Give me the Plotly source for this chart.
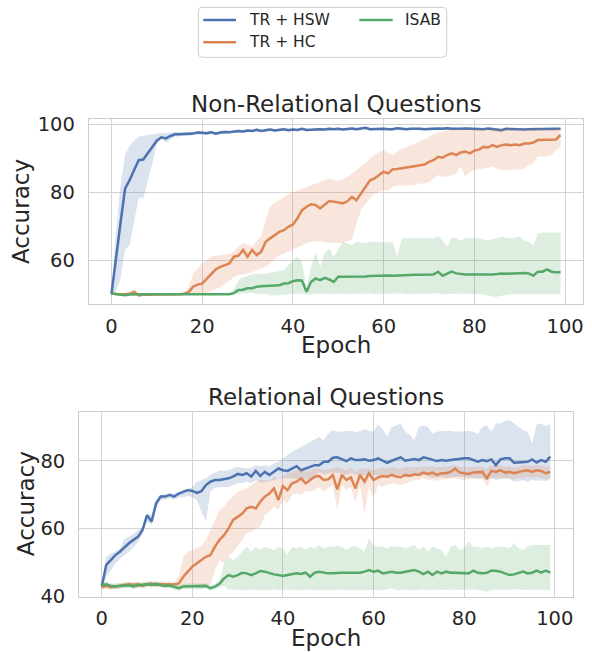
import plotly.graph_objects as go

# ---------------- data ----------------
epochs = list(range(100))

# Top panel: Non-Relational Questions
nr_hsw_mean = [50.0, 61.0, 71.0, 81.0, 83.5, 86.5, 89.4, 89.6, 91.4, 93.3,
               95.1, 96.1, 95.8, 96.5, 97.0, 97.0, 97.1, 97.0, 97.2, 97.5,
               97.5, 97.3, 97.6, 97.2, 97.5, 97.7, 97.6, 97.9, 98.0, 97.8,
               98.1, 98.0, 98.3, 98.0, 98.2, 98.4, 98.1, 98.3, 98.5, 98.2,
               98.4, 98.3, 98.6, 98.3, 98.4, 98.6, 98.5, 98.4, 98.6, 98.5,
               98.6, 98.4, 98.5, 98.7, 98.5, 98.6, 98.9, 98.5, 98.6, 98.5,
               98.6, 98.5, 98.5, 98.8, 98.6, 98.5, 98.6, 98.7, 98.6, 98.5,
               98.6, 98.5, 98.7, 98.6, 98.8, 98.6, 98.5, 98.6, 98.7, 98.6,
               98.5, 98.6, 98.5, 98.7, 98.6, 98.5, 98.2, 98.6, 98.5, 98.6,
               98.5, 98.4, 98.5, 98.5, 98.6, 98.5, 98.6, 98.5, 98.5, 98.6]
nr_hsw_upper = [50.5, 68.0, 82.0, 91.0, 93.5, 95.2, 96.3, 96.6, 96.8, 97.0,
                97.2, 97.4, 97.3, 97.5, 97.7, 97.6, 97.6, 97.5, 97.7, 98.0,
                98.0, 97.8, 98.1, 97.7, 98.0, 98.2, 98.0, 98.3, 98.4, 98.2,
                98.5, 98.4, 98.7, 98.4, 98.6, 98.8, 98.5, 98.7, 98.9, 98.6,
                98.8, 98.7, 99.0, 98.7, 98.8, 99.0, 98.9, 98.8, 99.0, 98.9,
                99.0, 98.8, 98.9, 99.1, 98.9, 99.0, 99.3, 98.9, 99.0, 98.9,
                99.0, 98.9, 98.9, 99.2, 99.0, 98.9, 99.0, 99.1, 99.0, 98.9,
                99.0, 98.9, 99.1, 99.0, 99.2, 99.0, 98.9, 99.0, 99.1, 99.0,
                98.9, 99.0, 98.9, 99.1, 99.0, 98.8, 98.8, 99.0, 98.9, 99.0,
                98.9, 98.8, 98.9, 98.9, 99.0, 98.9, 99.0, 98.9, 98.9, 99.0]
nr_hsw_lower = [49.6, 50.7, 54.6, 63.0, 64.4, 71.8, 78.4, 78.1, 83.0, 88.4,
                94.3, 95.8, 94.5, 95.5, 96.3, 96.4, 96.6, 96.5, 96.7, 97.0,
                97.0, 96.8, 97.1, 96.7, 97.0, 97.2, 97.2, 97.5, 97.6, 97.4,
                97.7, 97.6, 97.9, 97.6, 97.8, 98.0, 97.7, 97.9, 98.1, 97.8,
                98.0, 97.9, 98.2, 97.9, 98.0, 98.2, 98.1, 98.0, 98.2, 98.1,
                98.2, 98.0, 98.1, 98.3, 98.1, 98.2, 98.5, 98.1, 98.2, 98.1,
                98.2, 98.1, 98.1, 98.4, 98.2, 98.1, 98.2, 98.3, 98.2, 98.1,
                98.2, 98.1, 98.3, 98.2, 98.4, 98.2, 98.1, 98.2, 98.3, 98.2,
                98.1, 98.2, 98.1, 98.3, 98.2, 97.8, 97.6, 98.2, 98.1, 98.2,
                98.1, 98.0, 98.1, 98.1, 98.2, 98.1, 98.2, 98.1, 98.1, 98.2]

nr_hc_mean = [50.2, 50.0, 49.9, 50.0, 50.1, 50.7, 49.6, 49.8, 49.8, 50.0,
              50.0, 50.0, 50.0, 50.0, 49.8, 50.0, 50.1, 50.6, 52.2, 52.8,
              53.1, 54.6, 56.0, 57.3, 58.0, 58.5, 59.0, 61.0, 61.3, 63.0,
              61.0, 63.0, 61.5, 62.5, 65.4, 66.4, 67.4, 68.3, 68.8, 69.8,
              70.5, 72.3, 74.7, 75.7, 76.4, 76.2, 75.2, 76.2, 77.4, 77.2,
              76.9, 76.7, 77.3, 78.6, 77.6, 79.6, 81.6, 83.5, 84.0, 85.0,
              86.0, 85.5, 86.7, 86.8, 87.0, 87.3, 87.4, 87.6, 87.8, 88.1,
              88.9, 89.4, 90.4, 90.1, 90.9, 91.4, 90.9, 91.7, 91.9, 91.4,
              92.2, 92.5, 93.3, 93.1, 93.8, 93.3, 93.8, 94.0, 93.8, 94.0,
              93.8, 94.3, 94.3, 94.6, 95.3, 95.3, 95.3, 95.3, 95.5, 96.8]
nr_hc_upper = [50.5, 50.3, 50.2, 50.3, 50.4, 51.0, 49.9, 50.1, 50.1, 50.3,
               50.3, 50.3, 50.3, 50.3, 50.1, 50.3, 50.5, 52.0, 56.0, 57.5,
               59.0, 60.0, 61.0, 61.3, 61.5, 61.5, 61.8, 62.5, 64.0, 65.0,
               64.5, 64.0, 65.5, 67.0, 71.8, 75.7, 77.0, 77.5, 78.5, 79.3,
               80.0, 80.5, 81.0, 81.5, 82.0, 82.5, 83.0, 83.5, 84.0, 83.5,
               83.5, 83.8, 84.5, 85.5, 86.5, 87.5, 88.5, 90.0, 91.0, 91.8,
               92.4, 91.5, 91.0, 92.0, 92.8, 93.3, 93.8, 94.3, 94.8, 95.5,
               96.3, 97.0, 97.6, 97.8, 98.2, 98.4, 98.5, 98.6, 98.4, 98.5,
               98.7, 98.5, 98.6, 98.4, 98.5, 98.3, 98.6, 98.5, 98.7, 98.5,
               98.6, 98.4, 98.5, 98.6, 98.5, 98.6, 98.5, 98.6, 98.5, 98.7]
nr_hc_lower = [49.9, 49.7, 49.6, 49.7, 49.8, 50.4, 49.3, 49.5, 49.5, 49.7,
               49.7, 49.7, 49.7, 49.7, 49.5, 49.7, 49.8, 49.8, 49.9, 50.0,
               50.0, 50.3, 51.0, 51.5, 52.0, 53.0, 54.0, 55.0, 55.6, 55.8,
               56.0, 56.5, 57.0, 57.5, 58.0, 59.0, 60.5, 61.3, 62.0, 62.5,
               63.0, 63.7, 64.4, 65.0, 65.4, 65.6, 65.6, 65.2, 65.0, 65.0,
               65.0, 65.2, 65.5, 66.0, 70.8, 74.7, 76.7, 78.1, 79.6, 80.1,
               80.6, 80.3, 81.6, 81.8, 82.0, 81.8, 82.2, 82.0, 82.5, 82.5,
               83.0, 84.0, 85.0, 84.5, 84.5, 85.0, 85.5, 87.5, 84.5, 86.0,
               86.5, 86.8, 87.0, 87.2, 87.5, 86.8, 86.5, 86.6, 86.5, 86.7,
               86.5, 87.0, 87.9, 88.5, 90.4, 90.4, 90.5, 91.0, 92.4, 93.3]

nr_isab_mean = [50.2, 50.0, 49.9, 49.7, 49.9, 50.0, 50.0, 50.0, 50.0, 50.0,
                50.0, 50.0, 50.0, 50.0, 50.0, 50.0, 50.0, 50.0, 50.0, 50.0,
                50.0, 50.0, 50.0, 50.0, 50.0, 50.0, 50.0, 50.3, 51.2, 51.3,
                51.7, 51.7, 52.2, 52.3, 52.4, 52.3, 52.6, 52.6, 53.1, 53.2,
                53.8, 54.1, 54.0, 50.7, 53.6, 54.6, 54.1, 54.8, 54.3, 53.6,
                55.1, 55.1, 55.0, 55.1, 55.2, 55.1, 55.2, 55.3, 55.4, 55.3,
                55.6, 55.5, 55.4, 55.5, 55.6, 55.7, 55.6, 55.7, 55.7, 55.7,
                55.8, 55.8, 56.6, 55.4, 56.0, 56.6, 56.1, 55.9, 55.8, 55.8,
                55.8, 55.7, 55.6, 55.8, 55.8, 55.9, 56.1, 56.0, 56.1, 56.0,
                56.1, 56.2, 56.1, 55.4, 56.6, 56.6, 57.3, 56.6, 56.4, 56.4]
nr_isab_upper = [50.4, 50.2, 50.1, 49.9, 50.1, 50.2, 50.2, 50.2, 50.2, 50.2,
                 50.2, 50.2, 50.2, 50.2, 50.2, 50.2, 50.2, 50.2, 50.2, 50.2,
                 50.2, 50.2, 50.2, 50.2, 50.2, 50.2, 50.2, 51.5, 54.0, 55.0,
                 55.5, 55.8, 56.0, 56.0, 56.0, 56.3, 56.5, 56.8, 57.0, 58.5,
                 60.0, 61.0, 59.5, 51.5, 58.0, 62.5, 58.0, 62.0, 63.4, 61.0,
                 63.4, 65.4, 65.0, 64.4, 65.4, 65.2, 65.0, 65.4, 65.4, 65.4,
                 65.4, 65.4, 65.2, 61.0, 66.4, 66.4, 66.4, 66.4, 66.4, 66.4,
                 66.4, 66.4, 67.0, 65.8, 64.0, 66.7, 66.4, 65.8, 66.4, 66.4,
                 66.4, 66.4, 66.0, 65.8, 66.2, 66.4, 66.9, 66.6, 66.4, 66.6,
                 66.9, 65.8, 65.4, 64.4, 67.8, 68.1, 68.1, 68.1, 68.1, 68.1]
nr_isab_lower = [50.0, 49.8, 49.7, 49.5, 49.7, 49.8, 49.8, 49.8, 49.8, 49.8,
                 49.8, 49.8, 49.8, 49.8, 49.8, 49.8, 49.8, 49.8, 49.8, 49.8,
                 49.8, 49.8, 49.8, 49.8, 49.8, 49.8, 49.8, 49.9, 50.0, 50.2,
                 50.3, 50.3, 50.2, 50.0, 50.1, 49.7, 49.6, 49.7, 49.8, 50.0,
                 50.1, 50.2, 50.1, 49.8, 50.0, 50.2, 50.1, 50.2, 50.0, 50.1,
                 50.2, 50.1, 50.0, 50.2, 50.1, 50.0, 50.1, 50.2, 50.0, 50.1,
                 50.2, 50.1, 50.0, 50.1, 50.2, 50.0, 50.1, 50.0, 50.2, 50.1,
                 50.0, 50.1, 50.2, 50.0, 50.1, 50.0, 50.1, 50.2, 50.0, 50.1,
                 50.0, 50.1, 49.8, 49.6, 49.3, 49.2, 49.4, 49.8, 50.0, 50.1,
                 50.0, 50.1, 50.0, 50.1, 50.0, 50.1, 50.0, 50.1, 50.0, 50.0]

# Bottom panel: Relational Questions
r_hsw_mean = [42.8, 49.2, 50.6, 52.1, 53.1, 54.4, 55.6, 56.6, 57.5, 59.5,
              63.9, 62.0, 67.4, 69.4, 69.4, 69.9, 69.4, 70.3, 70.8, 71.3,
              71.1, 70.5, 71.0, 72.8, 73.8, 74.3, 74.3, 74.5, 74.8, 75.3,
              76.1, 75.8, 76.3, 75.3, 77.0, 75.5, 76.7, 75.8, 76.7, 77.7,
              77.2, 77.0, 77.7, 78.4, 77.2, 77.7, 78.2, 78.7, 78.7, 79.7,
              79.7, 80.9, 81.0, 80.4, 79.9, 80.7, 80.2, 80.2, 80.4, 80.0,
              80.2, 80.7, 80.0, 79.4, 80.0, 80.4, 81.0, 80.0, 80.2, 80.5,
              80.2, 81.0, 80.7, 80.2, 79.9, 80.2, 80.0, 80.2, 80.4, 80.5,
              80.7, 80.7, 80.2, 79.7, 80.2, 79.9, 80.4, 78.7, 80.4, 80.7,
              80.7, 79.4, 79.5, 79.6, 79.7, 80.4, 79.5, 80.2, 79.7, 81.2]
r_hsw_upper = [43.5, 51.6, 52.4, 53.1, 54.0, 56.9, 57.5, 58.3, 59.4, 60.5,
               64.4, 63.9, 68.4, 69.9, 70.2, 70.3, 70.3, 70.7, 71.5, 71.8,
               72.1, 73.8, 74.3, 74.8, 75.8, 76.5, 77.2, 77.0, 77.2, 77.7,
               78.2, 77.9, 77.7, 77.9, 78.7, 78.4, 78.7, 78.4, 79.2, 79.7,
               80.7, 81.7, 82.7, 83.4, 84.1, 84.9, 85.6, 86.3, 87.0, 86.1,
               88.0, 89.0, 88.6, 88.6, 88.9, 88.9, 88.5, 88.7, 89.4, 88.9,
               88.6, 90.8, 89.4, 87.1, 89.9, 90.4, 91.0, 88.6, 87.6, 86.1,
               90.0, 90.4, 90.0, 88.0, 88.6, 88.9, 88.7, 88.9, 88.6, 88.7,
               88.6, 88.9, 88.6, 88.0, 90.0, 90.4, 88.6, 91.0, 91.0, 91.8,
               92.0, 91.0, 90.0, 89.0, 88.6, 85.1, 90.8, 91.0, 90.3, 90.8]
r_hsw_lower = [42.3, 45.6, 47.6, 49.6, 51.0, 52.1, 53.0, 54.4, 56.0, 58.5,
               62.0, 61.0, 65.9, 68.4, 68.5, 68.9, 68.5, 69.2, 69.2, 69.6,
               69.2, 68.4, 65.0, 62.0, 71.0, 72.0, 72.0, 72.2, 72.2, 72.8,
               73.4, 73.4, 73.8, 73.4, 74.3, 73.6, 73.8, 73.8, 74.3, 74.5,
               74.8, 74.8, 74.8, 74.6, 74.3, 74.5, 74.3, 75.0, 76.7, 76.0,
               76.2, 76.5, 76.3, 76.2, 75.8, 76.5, 75.8, 75.7, 75.7, 75.6,
               75.7, 75.7, 75.5, 75.2, 75.5, 75.4, 75.8, 75.2, 75.5, 75.4,
               75.5, 75.8, 75.5, 75.0, 75.0, 75.2, 75.0, 75.2, 75.2, 75.3,
               75.2, 75.2, 75.0, 74.6, 74.8, 74.3, 74.8, 74.3, 74.6, 74.8,
               74.6, 73.8, 74.0, 74.2, 73.8, 74.3, 74.0, 74.2, 74.0, 74.5]

r_hc_mean = [42.6, 43.0, 42.6, 42.8, 43.0, 43.3, 43.5, 43.3, 43.5, 43.0,
             43.5, 43.7, 43.3, 43.5, 43.4, 43.3, 43.4, 43.7, 45.7, 47.2,
             48.7, 49.7, 50.6, 51.6, 52.1, 54.6, 56.6, 58.0, 60.0, 62.5,
             63.4, 64.4, 65.9, 66.4, 65.9, 67.9, 69.4, 70.3, 71.8, 68.4,
             72.5, 71.3, 73.3, 73.8, 74.8, 73.3, 74.3, 75.3, 75.5, 74.3,
             74.5, 75.8, 71.5, 75.8, 74.3, 75.1, 71.8, 75.8, 73.8, 76.3,
             74.3, 75.1, 75.5, 75.3, 75.8, 75.3, 75.1, 75.8, 75.5, 76.0,
             75.8, 76.5, 76.1, 76.5, 75.8, 76.3, 76.3, 76.7, 77.7, 76.5,
             76.3, 76.1, 76.5, 76.7, 76.7, 74.8, 77.0, 76.7, 77.2, 76.5,
             76.7, 76.3, 76.7, 77.0, 77.2, 76.7, 77.2, 77.0, 76.3, 76.7]
r_hc_upper = [43.4, 43.8, 43.4, 43.6, 43.8, 44.1, 44.3, 44.1, 44.3, 43.8,
              44.3, 44.5, 44.1, 44.3, 44.2, 44.1, 44.2, 46.0, 51.6, 53.1,
              53.6, 54.1, 55.0, 56.6, 59.5, 62.5, 65.4, 66.4, 68.4, 69.4,
              70.8, 71.3, 71.8, 72.8, 73.8, 74.3, 74.3, 73.8, 75.3, 74.3,
              75.5, 76.3, 76.7, 77.2, 77.7, 76.7, 77.2, 77.7, 77.7, 77.2,
              77.5, 77.7, 78.2, 77.7, 77.2, 77.9, 76.7, 77.7, 77.7, 77.7,
              77.2, 77.7, 78.0, 77.8, 78.2, 77.7, 77.8, 78.2, 78.0, 78.2,
              78.0, 78.4, 78.2, 78.4, 78.0, 78.2, 78.2, 78.4, 78.7, 78.2,
              78.0, 78.0, 78.2, 78.4, 78.4, 77.7, 78.7, 78.4, 78.7, 78.2,
              78.4, 78.0, 78.4, 78.7, 78.7, 78.4, 78.7, 78.7, 78.2, 78.4]
r_hc_lower = [41.8, 42.2, 41.8, 42.0, 42.2, 42.5, 42.7, 42.5, 42.7, 42.2,
              42.7, 42.9, 42.5, 42.7, 42.6, 42.5, 42.6, 42.8, 42.8, 43.0,
              43.3, 43.3, 42.8, 42.8, 43.3, 47.7, 50.6, 49.7, 51.6, 53.1,
              54.6, 56.6, 58.5, 59.0, 60.0, 60.5, 63.9, 64.9, 66.4, 65.4,
              68.4, 67.4, 69.9, 70.3, 69.9, 71.3, 70.8, 71.3, 72.3, 70.8,
              71.8, 72.8, 65.4, 72.8, 71.3, 72.3, 67.4, 72.8, 64.0, 72.3,
              68.9, 72.8, 72.3, 72.8, 73.3, 73.3, 72.8, 73.4, 73.8, 74.3,
              74.3, 74.8, 74.3, 74.5, 74.0, 74.5, 74.5, 74.8, 74.8, 74.5,
              74.3, 74.3, 74.6, 74.8, 74.8, 72.3, 74.8, 75.0, 75.0, 74.6,
              74.8, 74.5, 75.0, 75.0, 75.2, 75.0, 75.2, 75.0, 74.6, 75.0]

r_isab_mean = [43.2, 43.5, 43.0, 42.8, 43.0, 43.2, 43.2, 42.8, 43.2, 43.3,
               43.5, 43.3, 43.6, 43.2, 43.0, 43.1, 42.8, 42.3, 42.8, 42.8,
               42.8, 42.8, 42.8, 43.0, 42.3, 42.8, 43.6, 45.2, 46.2, 45.7,
               46.2, 46.9, 46.7, 46.2, 46.7, 47.4, 47.2, 46.7, 46.4, 46.2,
               45.9, 46.2, 46.4, 46.7, 46.5, 46.9, 45.7, 46.9, 47.2, 46.9,
               46.7, 46.7, 46.9, 46.9, 46.9, 46.9, 46.9, 46.9, 47.2, 47.7,
               47.2, 47.5, 46.7, 46.9, 47.2, 46.9, 46.9, 47.2, 47.5, 47.7,
               47.2, 46.5, 47.2, 46.2, 47.2, 46.7, 47.2, 46.9, 46.9, 46.9,
               46.7, 46.7, 47.5, 46.9, 46.7, 46.9, 47.5, 47.5, 47.2, 46.7,
               46.2, 46.4, 46.9, 47.2, 46.7, 46.9, 47.5, 46.9, 47.5, 46.9]
r_isab_upper = [44.0, 44.3, 43.8, 43.6, 43.8, 44.0, 44.0, 43.6, 44.0, 44.1,
                44.3, 44.1, 44.4, 44.0, 43.8, 43.9, 43.6, 43.1, 43.6, 43.6,
                43.6, 43.6, 43.6, 43.8, 43.1, 43.6, 44.7, 49.7, 51.6, 50.6,
                51.6, 53.1, 54.6, 53.1, 54.6, 53.6, 54.6, 54.1, 53.6, 54.6,
                54.1, 52.1, 54.6, 54.1, 54.6, 53.6, 54.6, 54.1, 55.1, 54.1,
                54.6, 54.6, 54.8, 54.6, 53.6, 54.6, 54.8, 54.1, 53.1, 57.1,
                55.1, 54.6, 54.6, 54.1, 54.8, 54.6, 54.6, 54.1, 54.6, 55.1,
                53.6, 54.6, 53.1, 54.6, 54.1, 53.6, 51.6, 54.6, 55.1, 53.6,
                54.1, 56.1, 54.6, 54.6, 54.1, 54.6, 54.1, 54.6, 54.6, 54.6,
                54.1, 55.6, 54.1, 53.6, 54.6, 55.1, 55.1, 55.1, 55.1, 55.1]
r_isab_lower = [42.4, 42.7, 42.2, 42.0, 42.2, 42.4, 42.4, 42.0, 42.4, 42.5,
                42.7, 42.5, 42.8, 42.4, 42.2, 42.3, 42.0, 41.5, 42.0, 42.0,
                42.0, 42.0, 42.0, 42.2, 41.5, 42.0, 42.6, 43.0, 42.0, 41.8,
                41.8, 41.6, 41.8, 41.9, 41.7, 41.8, 41.6, 41.8, 41.9, 41.7,
                41.8, 41.9, 41.7, 41.8, 41.6, 41.8, 41.9, 41.7, 41.8, 41.9,
                41.8, 41.7, 41.9, 41.8, 41.6, 41.8, 41.9, 41.8, 41.7, 41.8,
                41.9, 41.8, 41.7, 41.9, 42.2, 41.8, 41.7, 41.9, 41.8, 41.6,
                41.8, 41.9, 41.7, 41.8, 41.9, 41.8, 41.7, 41.8, 41.9, 41.8,
                41.7, 41.8, 41.9, 41.8, 41.6, 41.3, 41.7, 41.8, 41.9, 41.8,
                41.7, 41.8, 41.9, 41.8, 41.7, 41.8, 41.9, 41.8, 41.7, 41.8]

series_names = ["TR + HSW", "TR + HC", "ISAB"]
x_ticks = [0, 20, 40, 60, 80, 100]
top_y_ticks = [60, 80, 100]
bottom_y_ticks = [40, 60, 80]
panel_titles = ["Non-Relational Questions", "Relational Questions"]
x_label = "Epoch"
y_label = "Accuracy"

# ---------------- styling ----------------
W, H = 592, 652
FONT = "DejaVu Sans"
TXT = "#262626"
GRID = "#d4d4d4"
SPINE = "#cccccc"
colors = ["#4C72B0", "#DD8452", "#55A868"]
bands = ["rgba(76,114,176,0.2)", "rgba(221,132,82,0.2)", "rgba(85,168,104,0.2)"]

def px(x):
    return x / W

def py(y):
    return 1 - y / H

fig = go.Figure()

panels = [
    ("x", "y", [(nr_hsw_mean, nr_hsw_upper, nr_hsw_lower),
                (nr_hc_mean, nr_hc_upper, nr_hc_lower),
                (nr_isab_mean, nr_isab_upper, nr_isab_lower)]),
    ("x2", "y2", [(r_hsw_mean, r_hsw_upper, r_hsw_lower),
                  (r_hc_mean, r_hc_upper, r_hc_lower),
                  (r_isab_mean, r_isab_upper, r_isab_lower)]),
]

for xa, ya, data in panels:
    for i, (m, up, lo) in enumerate(data):
        fig.add_trace(go.Scatter(
            x=epochs + epochs[::-1], y=up + lo[::-1], xaxis=xa, yaxis=ya,
            fill="toself", fillcolor=bands[i], line=dict(width=0),
            mode="lines", hoverinfo="skip", showlegend=False))
        fig.add_trace(go.Scatter(
            x=epochs, y=m, xaxis=xa, yaxis=ya, mode="lines",
            line=dict(color=colors[i], width=2.5), name=series_names[i],
            showlegend=False))

axis_common = dict(
    showgrid=True, gridcolor=GRID, gridwidth=1.2, zeroline=False,
    showline=True, mirror=True, linecolor=SPINE, linewidth=1.3,
    ticks="", tickfont=dict(family=FONT, size=19.5, color=TXT),
    automargin=False,
)

# panel boxes in pixels: (left, right, top, bottom)
top_box = (89, 583, 119, 304)
bot_box = (79.3, 572.7, 411.7, 596.7)

fig.update_layout(
    width=W, height=H, margin=dict(l=0, r=0, t=0, b=0),
    paper_bgcolor="white", plot_bgcolor="white",
    showlegend=False,
    xaxis=dict(domain=[px(top_box[0]), px(top_box[1])], anchor="y",
               range=[-4.95, 103.95], tickvals=x_ticks, ticklabelstandoff=4,
               **axis_common),
    yaxis=dict(domain=[py(top_box[3]), py(top_box[2])], anchor="x",
               range=[47.1, 101.5], tickvals=top_y_ticks, ticklabelstandoff=9,
               **axis_common),
    xaxis2=dict(domain=[px(bot_box[0]), px(bot_box[1])], anchor="y2",
                range=[-4.95, 103.95], tickvals=x_ticks, ticklabelstandoff=4,
                **axis_common),
    yaxis2=dict(domain=[py(bot_box[3]), py(bot_box[2])], anchor="x2",
                range=[39.8, 94.5], tickvals=bottom_y_ticks, ticklabelstandoff=9,
                **axis_common),
)

ann = []
big = dict(family=FONT, size=23, color=TXT)
for box, title in [(top_box, panel_titles[0]), (bot_box, panel_titles[1])]:
    cx = (box[0] + box[1]) / 2
    ann.append(dict(text=title, x=px(cx), y=py(box[2] - 15), xref="paper", yref="paper",
                    xanchor="center", yanchor="middle", showarrow=False, font=big))
    ann.append(dict(text=x_label, x=px(cx), y=py(box[3] + 41), xref="paper", yref="paper",
                    xanchor="center", yanchor="middle", showarrow=False, font=big))
ann.append(dict(text=y_label, x=px(21.5), y=py((top_box[2] + top_box[3]) / 2),
                xref="paper", yref="paper", xanchor="center", yanchor="middle",
                textangle=-90, showarrow=False, font=big))
ann.append(dict(text=y_label, x=px(26), y=py((bot_box[2] + bot_box[3]) / 2),
                xref="paper", yref="paper", xanchor="center", yanchor="middle",
                textangle=-90, showarrow=False, font=big))

# legend (manual, two columns)
shapes = []
lx0, lx1, ly0, ly1, r = 198.3, 446.7, 7.3, 57.3, 4
path = (f"M {px(lx0 + r)},{py(ly0)} L {px(lx1 - r)},{py(ly0)} "
        f"Q {px(lx1)},{py(ly0)} {px(lx1)},{py(ly0 + r)} "
        f"L {px(lx1)},{py(ly1 - r)} Q {px(lx1)},{py(ly1)} {px(lx1 - r)},{py(ly1)} "
        f"L {px(lx0 + r)},{py(ly1)} Q {px(lx0)},{py(ly1)} {px(lx0)},{py(ly1 - r)} "
        f"L {px(lx0)},{py(ly0 + r)} Q {px(lx0)},{py(ly0)} {px(lx0 + r)},{py(ly0)} Z")
shapes.append(dict(type="path", path=path, xref="paper", yref="paper",
                   line=dict(color=SPINE, width=1), fillcolor="white", layer="above"))
legend_items = [
    (series_names[0], 203.3, 236.0, 247.3, 20.0, colors[0]),
    (series_names[1], 203.3, 236.0, 247.3, 42.3, colors[1]),
    (series_names[2], 359.3, 392.7, 403.3, 20.0, colors[2]),
]
for name, x0, x1, tx, yy, c in legend_items:
    shapes.append(dict(type="line", xref="paper", yref="paper",
                       x0=px(x0), x1=px(x1), y0=py(yy), y1=py(yy),
                       line=dict(color=c, width=2.5), layer="above"))
    ann.append(dict(text=name, x=px(tx), y=py(yy), xref="paper", yref="paper",
                    xanchor="left", yanchor="middle", showarrow=False,
                    font=dict(family=FONT, size=15.5, color=TXT)))

fig.update_layout(annotations=ann, shapes=shapes)
fig.write_html("out.html")
